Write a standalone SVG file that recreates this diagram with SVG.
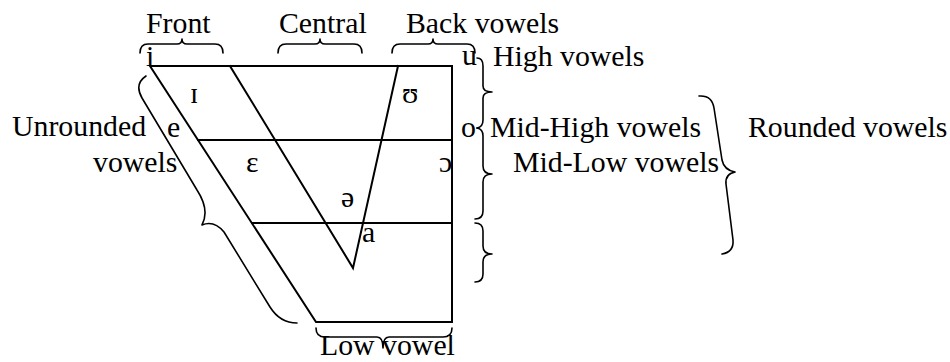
<svg xmlns="http://www.w3.org/2000/svg" width="950" height="362" viewBox="0 0 950 362" font-family="'Liberation Serif', 'Times New Roman', Tinos, 'DejaVu Serif', serif">
<style>
text{font-family:'Liberation Serif','Times New Roman',Tinos,'DejaVu Serif',serif;font-size:29.8px;fill:#000}
.ln{stroke:#000;stroke-width:2;fill:none;stroke-linecap:square}
.br{stroke:#000;stroke-width:1.6;fill:none;stroke-linecap:round;stroke-linejoin:round}
</style>
<rect width="950" height="362" fill="#fff"/>
<g id="chart">
<path class="ln" d="M150,66 H452 V322 H316 Z"/>
<line class="ln" x1="198" y1="140" x2="452" y2="140"/>
<line class="ln" x1="252" y1="223" x2="452" y2="223"/>
<path class="ln" d="M230,66 L353,268 L398,66"/>
</g>
<g id="vowels">
<text x="146" y="66">i</text>
<text x="462" y="65">u</text>
<text x="190" y="103">ɪ</text>
<text x="402" y="103">ʊ</text>
<text x="167" y="137">e</text>
<text x="461" y="137">o</text>
<text x="246" y="172">ɛ</text>
<text x="439" y="172">ɔ</text>
<text x="341" y="207">ə</text>
<text x="362" y="242">a</text>
</g>
<g id="braces">
<path class="br" d="M140,53 Q140,44 148,44 L177,44 Q182,44 182,39 Q182,44 187,44 L215,44 Q223,44 223,53"/>
<path class="br" d="M278,53 Q278,44 286,44 L315,44 Q320,44 320,39 Q320,44 325,44 L354,44 Q362,44 362,53"/>
<path class="br" d="M392,53 Q392,44 400,44 L428,44 Q433,44 433,39 Q433,44 438,44 L467,44 Q475,44 475,53"/>
<path class="br" d="M477,58 Q483,58 483,66 L483,86 Q483,92 492,92 Q483,92 483,98 L483,120 Q483,127 477,128"/>
<path class="br" d="M477,128 Q483,129 483,136 L483,166 Q483,174 492,174 Q483,174 483,182 L483,211 Q483,219 475,219"/>
<path class="br" d="M475,223 Q483,223 483,231 L483,246 Q483,254 492,254 Q483,254 483,262 L483,274 Q483,282 475,282"/>
<path class="br" d="M699,96 Q712,95 714,108 L722,160 Q724,170 735,172 Q725,174 726,184 L733,240 Q734,252 722,254"/>
<path class="br" d="M316,328 Q316,337 325,337 L377,337 Q383,337 383,348 Q383,337 389,337 L443,337 Q452,337 452,328"/>
<path class="br" d="M146,76 Q134,84 142,98 L197,190 Q210,210 202,225 Q214,220 224,232 L270,307 Q280,323 297,323"/>
</g>
<g id="labels">
<text x="146" y="33">Front</text>
<text x="279" y="33">Central</text>
<text x="406" y="33">Back vowels</text>
<text x="493" y="66">High vowels</text>
<text x="490" y="137">Mid-High vowels</text>
<text x="513" y="172">Mid-Low vowels</text>
<text x="748" y="137">Rounded vowels</text>
<text x="12" y="136">Unrounded</text>
<text x="93" y="172">vowels</text>
<text x="320" y="355">Low vowel</text>
</g>
</svg>
